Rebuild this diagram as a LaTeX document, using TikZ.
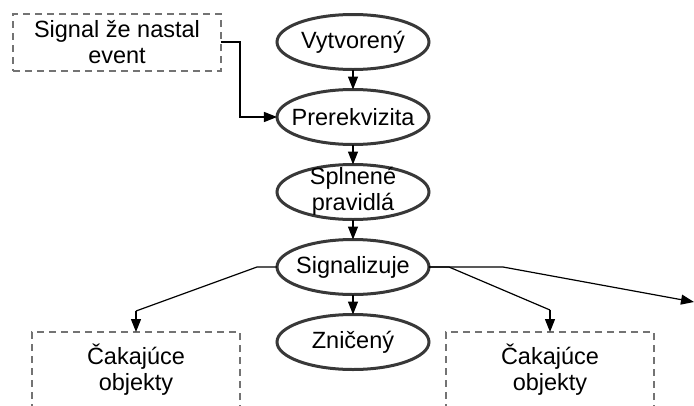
\documentclass[tikz,border=0pt]{standalone}
\usepackage{fontspec}
\setmainfont{Liberation Sans}
\usepackage{tikz}
\usetikzlibrary{arrows.meta,positioning,shapes.geometric}

\begin{document}
\begin{tikzpicture}[node distance = 20pt and 56pt,
    font=\fontsize{23.5pt}{26pt}\selectfont,
    stav/.style={ellipse,minimum width=152pt,minimum height=55pt,inner sep=0pt,outer sep=0pt,line width=3pt,draw=black!78},
    cakanie/.style={rectangle,minimum width=208pt,minimum height=76pt,outer sep=0pt,line width=2.8pt,draw=black!55,dash pattern=on 7pt off 5pt,align=center},
    sipka/.style={line width=1.2pt,black,-{Triangle[length=13pt,width=10pt]}},
    ciara/.style={line width=1.2pt,black},
   ]

    \useasboundingbox (-353pt,42pt) rectangle (341pt,-363pt);

    \node (vytv)    [stav, label={center:Vytvorený}] {};
    \node (prereq)  [stav, below=of vytv, label={center:Prerekvizita}] {};
    \node (splnene) [stav, below=of prereq, label={[align=center,yshift=1pt]center:Splnené\\pravidlá}] {};
    \node (signal)  [stav, below=of splnene, label={center:Signalizuje}] {};
    \node (znic)    [stav, below=of signal, label={center:Zničený}] {};

    \node (udalost) [cakanie, minimum height=57pt, left=of vytv, yshift=-0.5pt] {Signal že nastal\\event};
    \node (cakL) [cakanie, left=37pt of znic, yshift=-28pt] {Čakajúce\\objekty};
    \node (cakR) [cakanie, right=17pt of znic, yshift=-28pt] {Čakajúce\\objekty};
    \coordinate (dalsi) at ([shift={(265pt,-35pt)}]signal.east);

    \draw[sipka] (vytv) -- (prereq);
    \draw[sipka] (prereq) -- (splnene);
    \draw[sipka] (splnene) -- (signal);
    \draw[sipka] (signal) -- (znic);
    \draw[sipka] ([yshift=0.5pt]udalost.east) -- ++(19pt,0) |- (prereq.west);

    \draw[ciara] (signal.west) -- ++(-20pt,0) -- ([yshift=21pt]cakL.north) edge[sipka] (cakL.north);
    \draw[ciara] (signal.east) -- ++(20pt,0) -- ([yshift=22pt]cakR.north) edge[sipka] (cakR.north);
    \draw[sipka] (signal.east) -- ++(74pt,0) -- (dalsi);
   \end{tikzpicture}
\end{document}
